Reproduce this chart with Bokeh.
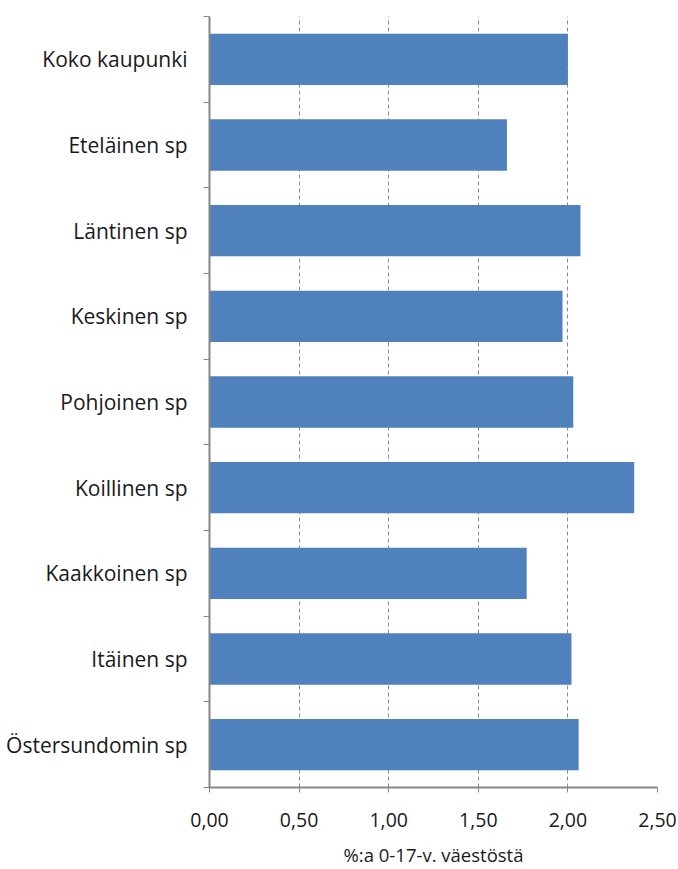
from bokeh.plotting import figure
from bokeh.models import FixedTicker, CustomJSTickFormatter, Range1d, ColumnDataSource
from bokeh.embed import file_html
from bokeh.resources import INLINE

areas = ["Koko kaupunki", "Eteläinen sp", "Läntinen sp", "Keskinen sp", "Pohjoinen sp",
         "Koillinen sp", "Kaakkoinen sp", "Itäinen sp", "Östersundomin sp"]
values = [2.00, 1.66, 2.07, 1.97, 2.03, 2.37, 1.77, 2.02, 2.06]
x_ticks = [0.0, 0.5, 1.0, 1.5, 2.0, 2.5]
x_title = "%:a 0-17-v. väestöstä"

n = len(areas)
ypos = [n - i - 0.5 for i in range(n)]
src = ColumnDataSource(dict(y=ypos, v=values, name=areas))

FONT = "Open Sans"
p = figure(width=678, height=869, output_backend="svg", toolbar_location=None,
           x_range=Range1d(0, 2.5), y_range=Range1d(0, n),
           min_border_left=209, min_border_right=21, min_border_top=16, min_border_bottom=80)
p.outline_line_color = None
p.background_fill_color = "white"

p.hbar(y="y", right="v", left=0, height=0.6, source=src, color="#4F81BD", line_color=None)

# x axis
xa = p.xaxis[0]
xa.ticker = FixedTicker(ticks=x_ticks)
xa.formatter = CustomJSTickFormatter(code="return tick.toFixed(2).replace('.', ',');")
xa.axis_line_color = "#868686"
xa.axis_line_width = 2
xa.major_tick_line_color = "#868686"
xa.major_tick_out = 5
xa.major_tick_in = 0
xa.minor_tick_line_color = None
xa.major_label_text_font = FONT
xa.major_label_text_font_size = "19.5px"
xa.major_label_text_color = "#1a1a1a"
xa.major_label_standoff = 20
xa.axis_label = x_title
xa.axis_label_text_font = FONT
xa.axis_label_text_font_size = "18.5px"
xa.axis_label_text_font_style = "normal"
xa.axis_label_text_color = "#1a1a1a"
xa.axis_label_standoff = 12

# y axis: labels at centers, ticks at boundaries (minor)
ya = p.yaxis[0]
ya.ticker = FixedTicker(ticks=ypos, minor_ticks=list(range(n + 1)))
ya.major_label_overrides = {y: a for y, a in zip(ypos, areas)}
ya.axis_line_color = "#868686"
ya.axis_line_width = 2
ya.major_tick_line_color = None
ya.major_tick_out = 0
ya.major_tick_in = 0
ya.minor_tick_line_color = "#868686"
ya.minor_tick_out = 6
ya.minor_tick_in = 0
ya.minor_tick_line_width = 1
ya.major_label_text_font = FONT
ya.major_label_text_font_size = "21px"
ya.major_label_text_color = "#1a1a1a"
ya.major_label_standoff = 16

p.ygrid.grid_line_color = None
p.xgrid.ticker = FixedTicker(ticks=x_ticks[1:])
p.xgrid.grid_line_color = "#8a8a8a"
p.xgrid.grid_line_dash = "4 3"
p.xgrid.grid_line_width = 1

open("out.html", "w").write(file_html(p, INLINE))
